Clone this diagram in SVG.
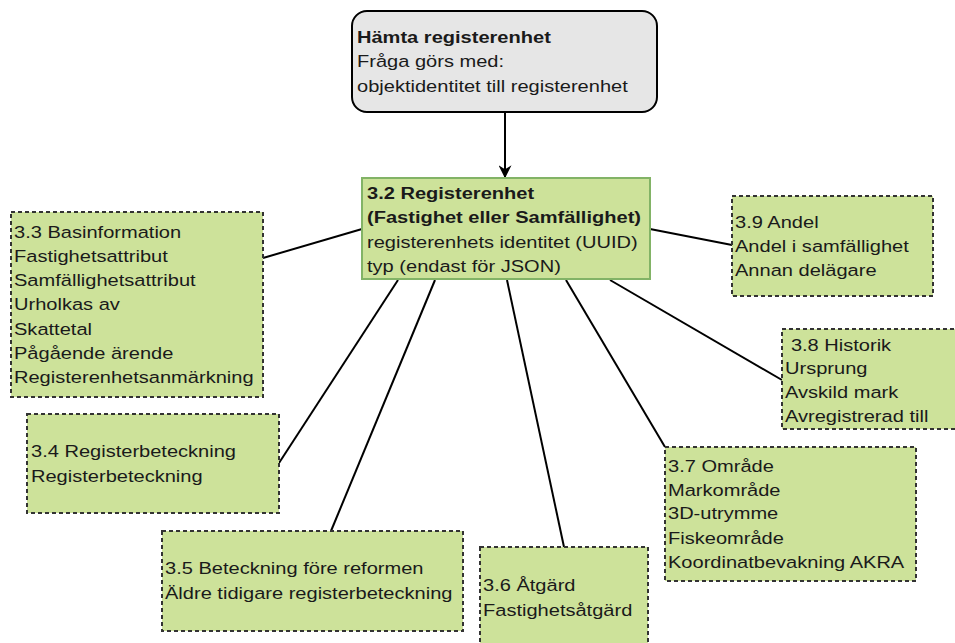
<svg xmlns="http://www.w3.org/2000/svg" width="955" height="643" viewBox="0 0 955 643">
<style>
text{font-family:"Liberation Sans",Arial,sans-serif;font-size:17px;fill:#1a1a1a}
.b{font-weight:bold}
.n{fill:#cde29a;stroke:#333;stroke-width:2;stroke-dasharray:4 3}
.c{stroke:#000;stroke-width:2;fill:none}
</style>
<defs>
<marker id="ah" viewBox="0 0 10 10" refX="9" refY="5" markerWidth="13" markerHeight="13" markerUnits="userSpaceOnUse" orient="auto">
<path d="M0,0 L10,5 L0,10 L3,5 z" fill="#000"/>
</marker>
</defs>
<rect width="955" height="643" fill="#fff"/>
<g id="connectors">
<line class="c" x1="505" y1="112" x2="505" y2="177" marker-end="url(#ah)"/>
<line class="c" x1="263" y1="258" x2="362" y2="229"/>
<line class="c" x1="650" y1="229" x2="732" y2="245"/>
<line class="c" x1="279" y1="463" x2="398" y2="280"/>
<line class="c" x1="331" y1="531" x2="435" y2="280"/>
<line class="c" x1="564" y1="547" x2="507" y2="280"/>
<line class="c" x1="665" y1="447" x2="566" y2="280"/>
<line class="c" x1="782" y1="380" x2="610" y2="280"/>
</g>
<g id="hamta">
<rect x="352" y="11" width="305" height="101" rx="15" fill="#e6e6e6" stroke="#000" stroke-width="2"/>
<g transform="matrix(1.18,0,0,1,357,0)">
<text x="0" y="43" class="b">Hämta registerenhet</text>
<text x="0" y="67">Fråga görs med:</text>
<text x="0" y="92">objektidentitet till registerenhet</text>
</g>
</g>
<g id="n32">
<rect x="362" y="178" width="288" height="101" fill="#cde29a" stroke="#82b366" stroke-width="2"/>
<g transform="matrix(1.18,0,0,1,367,0)">
<text x="0" y="199" class="b">3.2 Registerenhet</text>
<text x="0" y="223" class="b">(Fastighet eller Samfällighet)</text>
<text x="0" y="248">registerenhets identitet (UUID)</text>
<text x="0" y="272">typ (endast för JSON)</text>
</g>
</g>
<g id="n33">
<rect class="n" x="11" y="212" width="252" height="185"/>
<g transform="matrix(1.18,0,0,1,14,0)">
<text x="0" y="238">3.3 Basinformation</text>
<text x="0" y="262">Fastighetsattribut</text>
<text x="0" y="286">Samfällighetsattribut</text>
<text x="0" y="310">Urholkas av</text>
<text x="0" y="335">Skattetal</text>
<text x="0" y="359">Pågående ärende</text>
<text x="0" y="383">Registerenhetsanmärkning</text>
</g>
</g>
<g id="n39">
<rect class="n" x="732" y="196" width="201" height="100"/>
<g transform="matrix(1.18,0,0,1,735,0)">
<text x="0" y="228">3.9 Andel</text>
<text x="0" y="252">Andel i samfällighet</text>
<text x="0" y="276">Annan delägare</text>
</g>
</g>
<g id="n38">
<rect class="n" x="782" y="329" width="180" height="100"/>
<g transform="matrix(1.18,0,0,1,785,0)">
<text x="5" y="351">3.8 Historik</text>
<text x="0" y="374">Ursprung</text>
<text x="0" y="398">Avskild mark</text>
<text x="0" y="422">Avregistrerad till</text>
</g>
</g>
<g id="n34">
<rect class="n" x="27" y="414" width="252" height="99"/>
<g transform="matrix(1.18,0,0,1,31,0)">
<text x="0" y="457">3.4 Registerbeteckning</text>
<text x="0" y="482">Registerbeteckning</text>
</g>
</g>
<g id="n35">
<rect class="n" x="162" y="531" width="301" height="100"/>
<g transform="matrix(1.18,0,0,1,165,0)">
<text x="0" y="574">3.5 Beteckning före reformen</text>
<text x="0" y="599">Äldre tidigare registerbeteckning</text>
</g>
</g>
<g id="n36">
<rect class="n" x="480" y="547" width="168" height="100"/>
<g transform="matrix(1.18,0,0,1,483,0)">
<text x="0" y="591">3.6 Åtgärd</text>
<text x="0" y="616">Fastighetsåtgärd</text>
</g>
</g>
<g id="n37">
<rect class="n" x="665" y="447" width="251" height="134"/>
<g transform="matrix(1.18,0,0,1,668,0)">
<text x="0" y="472">3.7 Område</text>
<text x="0" y="496">Markområde</text>
<text x="0" y="519">3D-utrymme</text>
<text x="0" y="544">Fiskeområde</text>
<text x="0" y="568">Koordinatbevakning AKRA</text>
</g>
</g>
</svg>
